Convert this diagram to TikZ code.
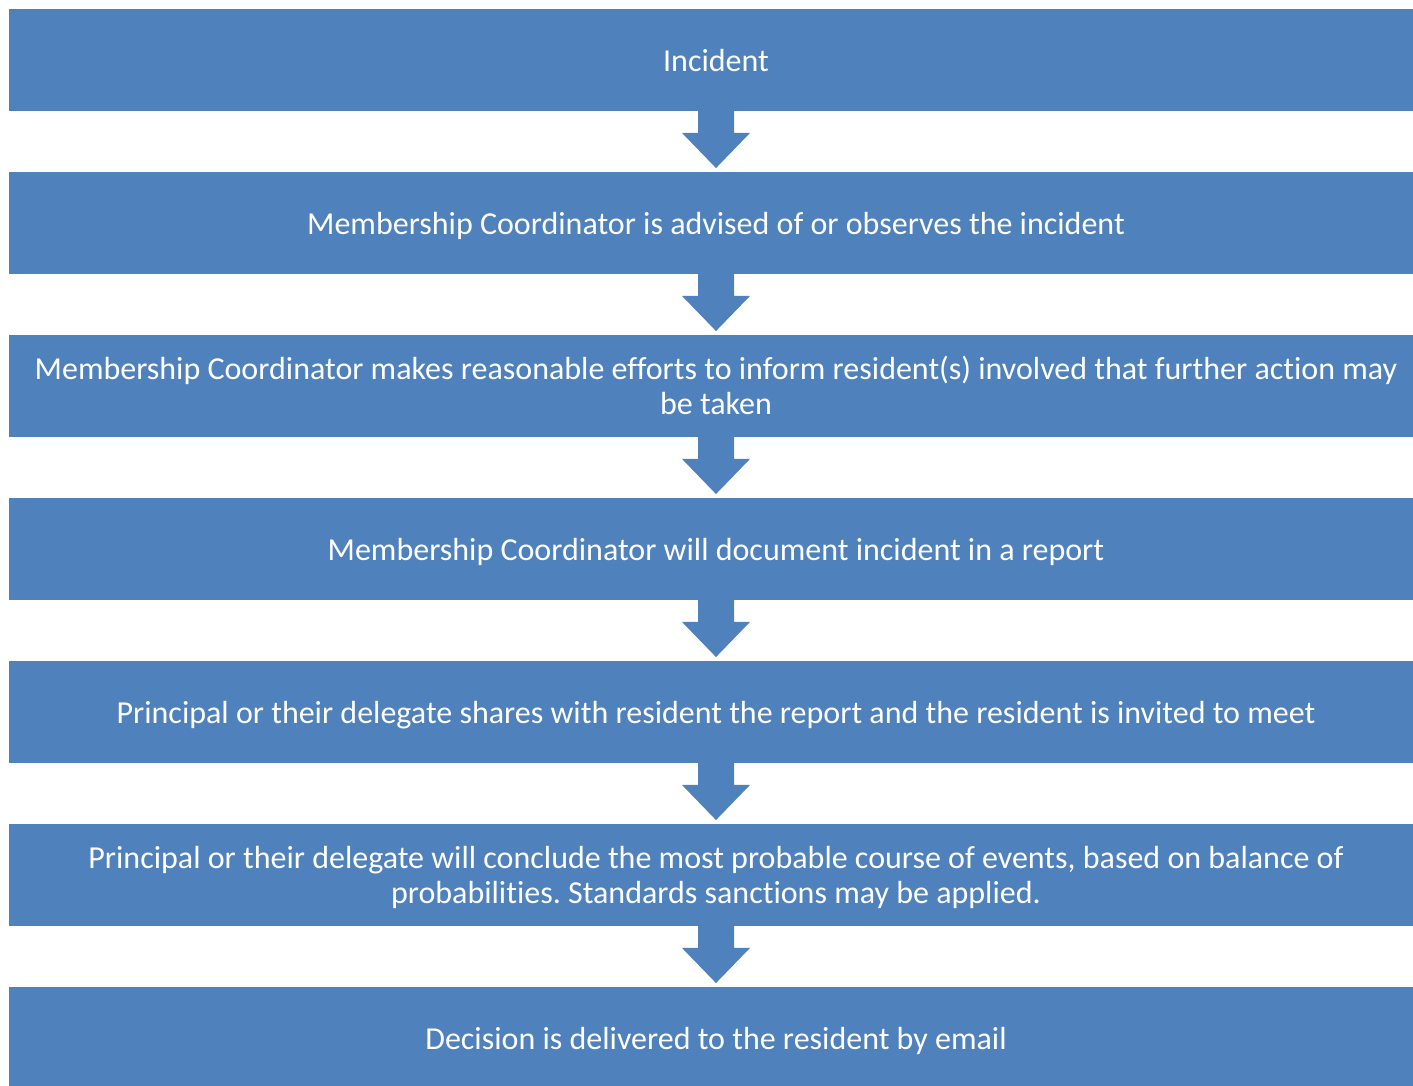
\documentclass[tikz,border=0pt]{standalone}
\usepackage{fontspec}
\setmainfont[Ligatures={NoCommon}]{Carlito}
\usetikzlibrary{calc}
\definecolor{boxblue}{HTML}{4F81BD}
\tikzset{
  stepbox/.style={fill=boxblue, draw=none, text=white, minimum width=1414pt, minimum height=101.5pt,
    inner sep=0pt, align=center, font=\fontsize{32}{35}\selectfont},
  oneline/.style={text height=26pt, text depth=3pt},
  twoline/.style={text height=57pt, text depth=1pt},
  flowarrow/.style={fill=boxblue, draw=none}
}
\begin{document}
\frenchspacing
\begin{tikzpicture}[x=1pt,y=-1pt]
\useasboundingbox (0,0) rectangle (1413,1085);
\clip (0,0) rectangle (1413,1085);
\node[stepbox,oneline] (b1) at (716,60) {Incident};
\node[stepbox,oneline] (b2) at (716,223) {Membership Coordinator is advised of or observes the incident};
\node[stepbox,twoline] (b3) at (716,386) {Membership Coordinator makes reasonable efforts to inform resident(s) involved that further action may\\be taken};
\node[stepbox,oneline] (b4) at (716,549) {Membership Coordinator will document incident in a report};
\node[stepbox,oneline] (b5) at (716,712) {Principal or their delegate shares with resident the report and the resident is invited to meet};
\node[stepbox,twoline] (b6) at (716,875) {Principal or their delegate will conclude the most probable course of events, based on balance of\\probabilities. Standards sanctions may be applied.};
\node[stepbox,oneline] (b7) at (716,1038) {Decision is delivered to the resident by email};
\foreach \a/\b in {b1/b2,b2/b3,b3/b4,b4/b5,b5/b6,b6/b7}{
  \fill[flowarrow] ($(\a.south)+(-18,-1)$) -- ($(\a.south)+(18,-1)$) -- ($(\a.south)+(18,22)$)
    -- ($(\a.south)+(34,22)$) -- ($(\b.north)+(0,-4)$) -- ($(\a.south)+(-34,22)$)
    -- ($(\a.south)+(-18,22)$) -- cycle;
}
\end{tikzpicture}
\end{document}
